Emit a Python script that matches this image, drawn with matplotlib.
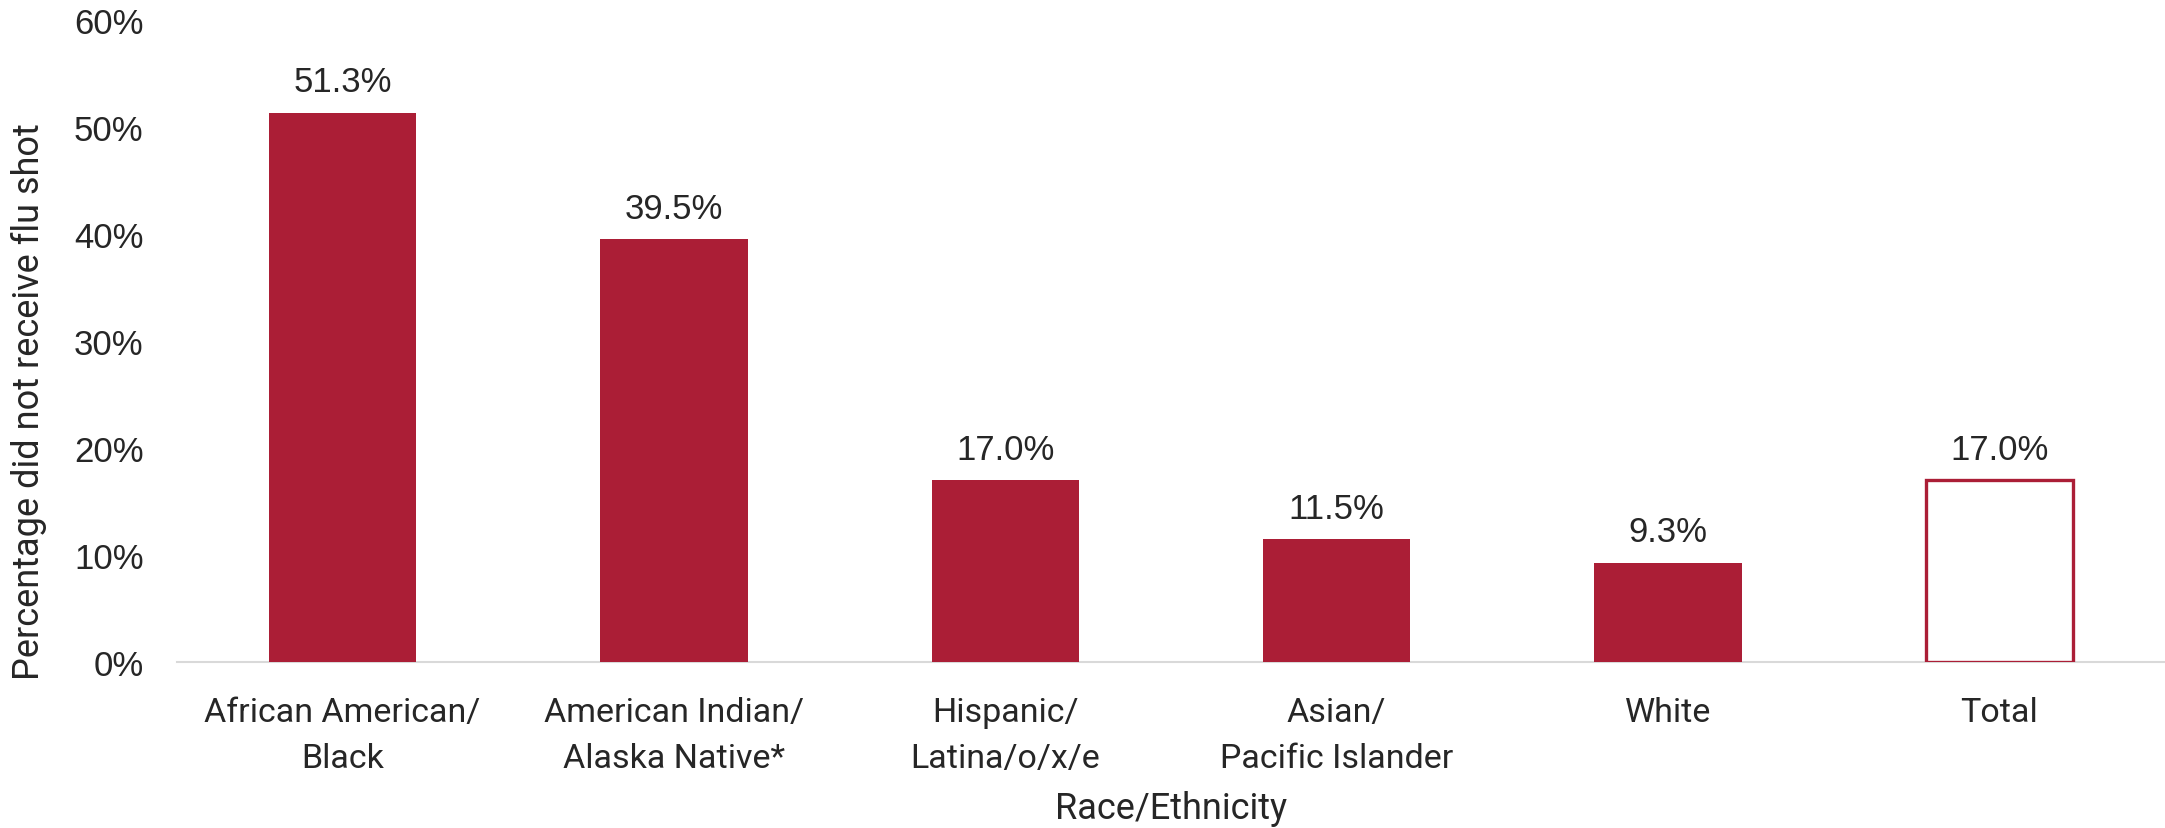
import matplotlib
matplotlib.use("Agg")
import matplotlib.pyplot as plt
from matplotlib.ticker import FuncFormatter

categories = ["African American/\nBlack", "American Indian/\nAlaska Native*", "Hispanic/\nLatina/o/x/e",
              "Asian/\nPacific Islander", "White", "Total"]
values = [51.3, 39.5, 17.0, 11.5, 9.3, 17.0]
yticks = [0, 10, 20, 30, 40, 50, 60]

RED = "#AB1E36"
TXT = "#262626"
ARIAL = ['Liberation Sans', 'DejaVu Sans']
plt.rcParams['font.family'] = ['Roboto', 'DejaVu Sans']

fig = plt.figure(figsize=(21.65, 8.29), dpi=100)
ax = fig.add_axes([0.0817, 0.2, 0.9183, 0.775])

x = list(range(len(categories)))
for i, v in enumerate(values):
    if categories[i] == "Total":
        ax.bar(i, v, width=0.445, facecolor="white", edgecolor=RED, linewidth=2.4, zorder=3)
    else:
        ax.bar(i, v, width=0.445, color=RED, zorder=3)
    ax.annotate(f"{v:.1f}%", (i, v), xytext=(0, 15.5), textcoords="offset points",
                ha="center", va="baseline", fontsize=25, color=TXT, family=ARIAL)

ax.set_xlim(-0.5, len(categories) - 0.5)
ax.set_ylim(0, 60)
ax.set_yticks(yticks)
ax.yaxis.set_major_formatter(FuncFormatter(lambda v, p: f"{v:.0f}%"))
ax.set_xticks(x)
ax.set_xticklabels(categories, fontsize=24.5, color=TXT, linespacing=1.57)
for lbl in ax.get_yticklabels():
    lbl.set_fontsize(25)
    lbl.set_color(TXT)
    lbl.set_fontfamily(ARIAL)
ax.tick_params(axis='both', length=0)
ax.tick_params(axis='x', pad=24)
ax.tick_params(axis='y', pad=24)
for s in ["top", "right", "left"]:
    ax.spines[s].set_visible(False)
ax.spines["bottom"].set_color("#D9D9D9")
ax.spines["bottom"].set_linewidth(1.5)

fig.text(0.5 * (0.0817 + 1.0), 0.024, "Race/Ethnicity", fontsize=26, color=TXT,
         ha="center", va="center")
fig.text(29 / 2165, 0.515, "Percentage did not receive flu shot", fontsize=26, color=TXT,
         ha="center", va="center", rotation=90)

fig.savefig("out.png", dpi=100)
